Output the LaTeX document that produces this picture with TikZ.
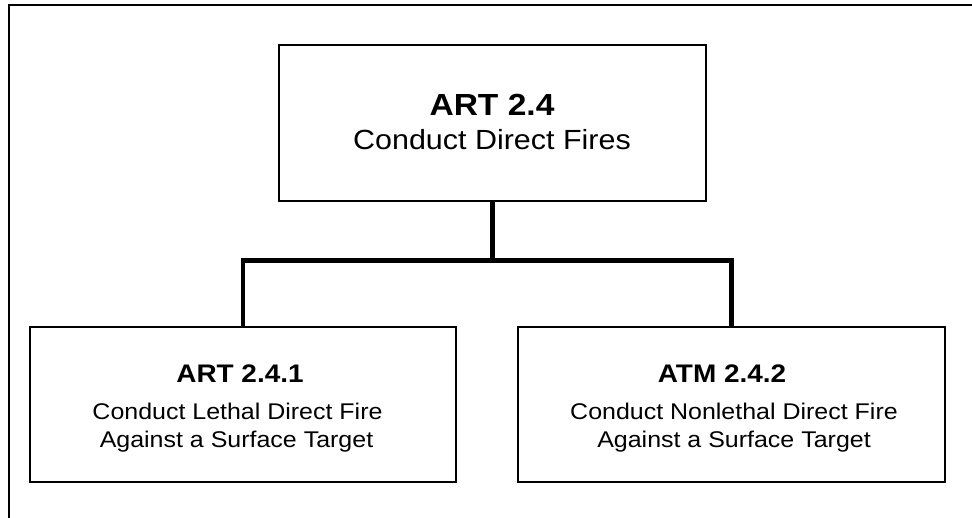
\documentclass[tikz,border=0pt]{standalone}
\usepackage{fontspec}
\setmainfont{Liberation Sans}[FakeStretch=1.1]
\begin{document}
\begin{tikzpicture}[x=1pt,y=-1pt,
  box/.style={draw=black,line width=2pt,fill=white,inner sep=0pt,minimum width=#1,minimum height=155pt},
  box/.default=427pt,
  conn/.style={draw=black,line width=4.5pt,line join=miter},
  frame/.style={draw=black,line width=2pt},
  txt/.style={inner sep=0pt,anchor=base},
  ttl/.style={txt,font=\fontsize{#1}{#1}\selectfont\bfseries},
  bdy/.style={txt,font=\fontsize{#1}{#1}\selectfont}]
\useasboundingbox (0,0) rectangle (972,518);
% outer frame (only top and left visible)
\coordinate (fa) at (9,518);
\coordinate (fb) at (9,5);
\coordinate (fc) at (973,5);
\draw[frame] (fa) -- (fb) -- (fc);
% boxes
\node[box=427pt,minimum height=156pt] (top) at (492.5,123) {};
\node[box=426pt] (left) at (243,404.5) {};
\node[box=427pt] (right) at (731.5,404.5) {};
% texts
\node[ttl=30.5pt] (toptitle) at (492,115.7) {ART 2.4};
\node[bdy=27.7pt] (topbody) at (492,150) {Conduct Direct Fires};
\node[ttl=25.4pt] (lefttitle) at (240,383) {ART 2.4.1};
\node[bdy=22.7pt] (leftbodya) at (237.5,420) {Conduct Lethal Direct Fire};
\node[bdy=22.7pt] (leftbodyb) at (236.5,447) {Against a Surface Target};
\node[ttl=25.4pt] (righttitle) at (722,383) {ATM 2.4.2};
\node[bdy=22.7pt] (rightbodya) at (734,420) {Conduct Nonlethal Direct Fire};
\node[bdy=22.7pt] (rightbodyb) at (734,447) {Against a Surface Target};
% connectors
\coordinate (bus) at (0,260.5);
\draw[conn] (top.south) -- (top.south |- bus);
\draw[conn] (left.north) -- (left.north |- bus) -| (right.north);
\end{tikzpicture}
\end{document}
